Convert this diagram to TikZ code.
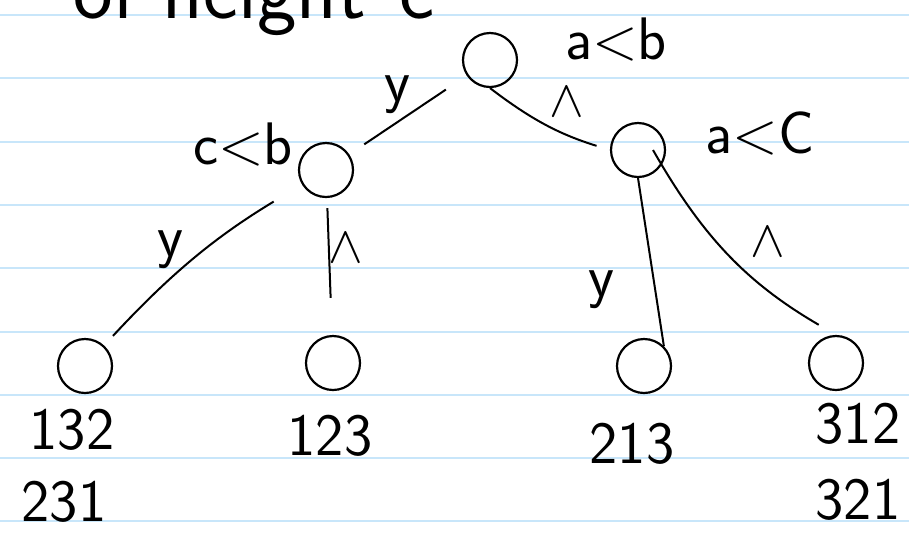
\RequirePackage{fix-cm}
\documentclass[tikz,border=0pt]{standalone}
\usepackage{fontspec}
\usepackage{amsmath}
\definecolor{ruleblue}{RGB}{200,230,250}

\begin{document}
\begin{tikzpicture}[x=1pt,y=-1pt,
        every node/.style={font=\sffamily\fontsize{60}{60}\selectfont},
        ptnode/.style={circle,draw,line width=2.2pt,minimum size=54pt,inner sep=0pt},
        cmpline/.style={line width=2pt},
        andmark/.style={font=\fontsize{52}{52}\selectfont}]
            \useasboundingbox (0,0) rectangle (909,542);
            \clip (0,0) rectangle (909,542);
            \fill [white] (0,0) rectangle (909,542);
            \foreach \k in {0,...,8}
                \draw [ruleblue, line width=2pt] (0,{15+63.3*\k}) -- (909,{15+63.3*\k});

            \node [anchor=base, font=\sffamily\fontsize{84}{84}\selectfont] (title) at (254,18) {of height\hspace{0.4em}c};

            \node [ptnode] (root) at (490,60) {};
            \node [ptnode] (cb) at (326,170) {};
            \node [ptnode] (ac) at (638,150) {};
            \node [ptnode] (leaf1) at (85,366) {};
            \node [ptnode] (leaf2) at (333,363) {};
            \node [ptnode] (leaf3) at (644,366) {};
            \node [ptnode] (leaf4) at (836,363) {};

            \node (lab-ab) at (616,40) {a<b};
            \node (lab-cb) at (243,145) {c<b};
            \node (lab-ac) at (760,133) {a<C};

            \node (perm1) at (72,430) {132};
            \node (perm1b) at (64,502) {231};
            \node (perm2) at (330,436) {123};
            \node (perm3) at (632,444) {213};
            \node (perm4) at (858,424) {312};
            \node (perm4b) at (858,500) {321};

            \node (yes1) at (397,95) {y};
            \node [andmark] (no1) at (567,102) {$\wedge$};
            \node (yes2) at (170,250) {y};
            \node [andmark] (no2) at (346,248) {$\wedge$};
            \node (yes3) at (601,290) {y};
            \node [andmark] (no3) at (768,242) {$\wedge$};

            \draw [cmpline, shorten <=25pt, shorten >=18pt] (root) -- (cb);
            \draw [cmpline, shorten >=14pt] (root.south) to[bend right=10] (ac.west);
            \draw [cmpline, shorten <=33pt, shorten >=13pt] (cb) to[bend right=8] (leaf1);
            \draw [cmpline, shorten <=10pt, shorten >=37pt] (cb) -- (leaf2);
            \draw [cmpline] (ac.south) -- (leaf3.north east);
            \draw [cmpline, shorten >=20pt] ([xshift=15pt]ac.center) to[bend right=15] (leaf4.north);
        \end{tikzpicture}
\end{document}
